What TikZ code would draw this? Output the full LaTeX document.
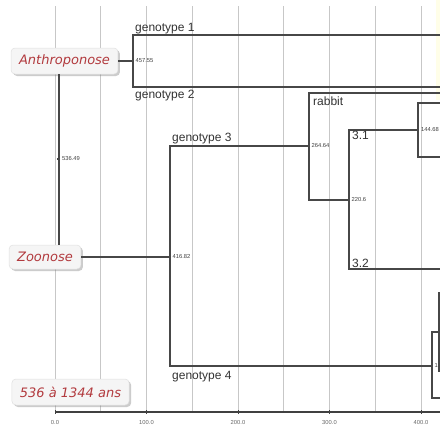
\documentclass[tikz,border=0pt]{standalone}
\usepackage{fontspec}
\setmainfont{Liberation Sans}
\newfontfamily\tagfont{DejaVu Sans}
\usetikzlibrary{shadows}
\definecolor{tagred}{HTML}{B23A3E}
\tikzset{
  gridline/.style={line width=0.6pt, draw=black!22},
  axisline/.style={line width=1.2pt, draw=black!75},
  branch/.style={line width=1.5pt, draw=black!72},
  leaflabel/.style={font=\fontsize{12}{14}\selectfont, text=black!80, inner sep=0pt, anchor=base west},
  nodevalue/.style={font=\fontsize{5.8}{7}\selectfont, text=black!75, inner sep=0pt, anchor=west},
  ticklabel/.style={font=\fontsize{5.8}{7}\selectfont, text=black!60, inner sep=0pt},
  tagbox/.style={rounded corners=4pt, fill=black!4, draw=black!12, line width=0.5pt, minimum height=26pt, inner xsep=8pt, text=tagred, font=\tagfont\itshape\fontsize{13}{15}\selectfont, drop shadow={shadow xshift=2pt, shadow yshift=-2pt, opacity=0.4}},
}
\begin{document}
\begin{tikzpicture}[x=1pt,y=-1pt]
\useasboundingbox (0,0) rectangle (440,426);
\fill[white] (0,0) rectangle (440,426);
\fill[yellow!9] (436,0) rectangle (440,100);
\draw[gridline] (55,6) -- (55,412);
\draw[gridline] (100.75,6) -- (100.75,412);
\draw[gridline] (146.5,6) -- (146.5,412);
\draw[gridline] (192.25,6) -- (192.25,412);
\draw[gridline] (238,6) -- (238,412);
\draw[gridline] (283.75,6) -- (283.75,412);
\draw[gridline] (329.5,6) -- (329.5,412);
\draw[gridline] (375.25,6) -- (375.25,412);
\draw[gridline] (421,6) -- (421,412);
\draw[axisline] (55,412) -- (442,412);
\draw[axisline, line width=0.8pt] (55,410) -- (55,414);
\draw[axisline, line width=0.8pt] (146.5,410) -- (146.5,414);
\draw[axisline, line width=0.8pt] (238,410) -- (238,414);
\draw[axisline, line width=0.8pt] (329.5,410) -- (329.5,414);
\draw[axisline, line width=0.8pt] (421,410) -- (421,414);
\node[ticklabel] (t0) at (55,422) {0.0};
\node[ticklabel] (t100) at (146.5,422) {100.0};
\node[ticklabel] (t200) at (238,422) {200.0};
\node[ticklabel] (t300) at (329.5,422) {300.0};
\node[ticklabel] (t400) at (421,422) {400.0};
\node[tagbox] (anthro) at (64.5,61) {Anthroponose};
\node[tagbox, minimum height=24pt] (zoo) at (45,257) {Zoonose};
\node[tagbox] (span) at (70.5,392) {536 à 1344 ans};
\coordinate (root) at (59,159);
\coordinate (n457) at (133,61);
\coordinate (n416) at (170,257);
\coordinate (n264) at (309,146);
\coordinate (n220) at (349,200);
\coordinate (n144) at (418,130);
\coordinate (n4a) at (432,366);
\coordinate (n4b) at (439,332);
\coordinate (g1) at (442,35);
\coordinate (g2) at (442,87);
\coordinate (rab) at (442,93);
\coordinate (c31a) at (442,103);
\coordinate (c31b) at (442,157);
\coordinate (c32) at (442,269);
\coordinate (g4up) at (442,293);
\coordinate (g4mid) at (442,371);
\coordinate (g4low) at (442,398);
\draw[branch] (root |- anthro.south) -- (root |- zoo.north);
\draw[branch] ([xshift=-2pt]root) -- (root);
\draw[branch] (anthro.east) -- (n457);
\draw[branch] (g1) -| (n457) |- (g2);
\draw[branch] (zoo.east) -- (n416);
\draw[branch] (n264) -| (n416) |- (n4a);
\draw[branch] (rab) -| (n264) |- (n220);
\draw[branch] (n144) -| (n220) |- (c32);
\draw[branch] (c31a) -| (n144) |- (c31b);
\draw[branch] (n4b) -| (n4a) |- (g4low);
\draw[branch] (g4up) -| (n4b) |- (g4mid);
\node[leaflabel] (lg1) at (135,31) {genotype 1};
\node[leaflabel] (lg2) at (135,98) {genotype 2};
\node[leaflabel] (lg3) at (172,141) {genotype 3};
\node[leaflabel] (lg4) at (172,379) {genotype 4};
\node[leaflabel] (lrab) at (313,105) {rabbit};
\node[leaflabel] (l31) at (352,139) {3.1};
\node[leaflabel] (l32) at (352,267) {3.2};
\node[nodevalue] (v536) at ([xshift=3pt]root) {536.49};
\node[nodevalue] (v457) at ([xshift=2.5pt]n457) {457.55};
\node[nodevalue] (v416) at ([xshift=2.5pt]n416) {416.82};
\node[nodevalue] (v264) at ([xshift=2.5pt]n264) {264.64};
\node[nodevalue] (v220) at ([xshift=2.5pt]n220) {220.6};
\node[nodevalue] (v144) at ([xshift=3pt]n144) {144.68};
\node[nodevalue] (v4a) at ([xshift=2.5pt]n4a) {1};
\end{tikzpicture}
\end{document}
